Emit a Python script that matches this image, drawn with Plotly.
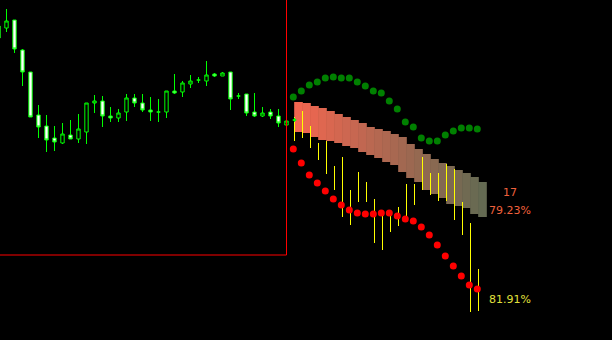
import plotly.graph_objects as go

# ---------------- data (arbitrary price units) ----------------
# historical candles, bar index 0..37
candle_idx = list(range(0, 38))
candle_open = [314, 312, 320, 290, 268, 225, 214, 202, 197, 205, 201, 208, 237, 239, 224, 222,
               228, 242, 237, 230, 228, 228, 249, 248, 256, 260, 259, 266, 264, 268, 244, 246,
               228, 224, 228, 224, 215, 220]
candle_high = [314, 331, 320, 291, 268, 235, 225, 214, 217, 220, 226, 237, 245, 244, 233, 231,
               246, 246, 246, 243, 241, 249, 266, 259, 265, 263, 279, 267, 268, 268, 247, 246,
               247, 233, 231, 231, 219, 222]
candle_low = [302, 308, 287, 254, 223, 202, 188, 189, 196, 201, 197, 196, 227, 213, 218, 218,
              219, 233, 228, 219, 218, 222, 246, 243, 252, 257, 254, 263, 264, 230, 241, 224,
              223, 223, 221, 213, 215, 218]
candle_close = [302, 319, 291, 268, 223, 213, 200, 198, 206, 201, 211, 237, 239, 224, 222, 227,
                242, 237, 230, 228, 228, 249, 247, 257, 259, 260, 265, 264, 267, 241, 244, 227,
                224, 227, 224, 217, 219, 220]

# forecast section, bar index 37..60
fc_idx = list(range(37, 61))
fc_range_high = [223, 229, 214, 197, 199, 174, 183, 150, 168, 158, 141, 129, 129, 133, 156, 156,
                 183, 167, 167, 176, 171, 138, 117, 71]
fc_range_low = [199, 202, 192, 180, 166, 150, 123, 115, 138, 138, 97, 90, 108, 114, 124, 135,
                150, 145, 139, 139, 120, 105, 28, 29]
band_upper = [238, 237, 234, 232, 229, 226, 223, 220, 217, 213, 211, 209, 206, 203, 196, 191,
              186, 181, 177, 174, 170, 167, 163, 158]
band_lower = [208, 207, 203, 200, 199, 197, 194, 192, 188, 185, 182, 178, 175, 168, 162, 158,
              150, 146, 142, 136, 134, 132, 126, 123]
upper_dots = [243, 249, 255, 258, 262, 263, 262, 262, 258, 254, 249, 247, 239, 231, 218, 213,
              202, 199, 199, 205, 209, 212, 212, 211]
lower_dots = [191, 177, 165, 157, 149, 141, 135, 130, 127, 126, 126, 127, 127, 124, 121, 119,
              113, 105, 95, 84, 74, 64, 55, 51]

border_index = 36      # last historical bar (red separator)
border_level = 85      # lower edge of the history frame

label_count = "17"
label_pct_top = "79.23%"
label_pct_bottom = "81.91%"
label_x = 63.9
label_y_count = 148
label_y_top = 130
label_y_bottom = 41

# ---------------- styles ----------------
BAND_START = (242, 102, 80)
BAND_END = (100, 106, 82)
DOT_DX = -0.15


def blend(t):
    r = [round(a + (b - a) * t) for a, b in zip(BAND_START, BAND_END)]
    return "rgb(%d,%d,%d)" % tuple(r)


n = len(fc_idx)
band_colors = [blend(k / (n - 1)) for k in range(n)]

fig = go.Figure()

# gradient band
fig.add_trace(go.Bar(
    x=[i + 0.5 for i in fc_idx],
    y=[u - l for u, l in zip(band_upper, band_lower)],
    base=band_lower,
    width=1.08,
    marker=dict(color=band_colors, line=dict(width=0)),
    hoverinfo="skip",
))

# yellow forecast ranges (thin bars)
fig.add_trace(go.Bar(
    x=fc_idx,
    y=[h - l for h, l in zip(fc_range_high, fc_range_low)],
    base=fc_range_low,
    width=0.125,
    marker=dict(color="#FFFF00", line=dict(width=0)),
    hoverinfo="skip",
))

# candles
fig.add_trace(go.Candlestick(
    x=candle_idx,
    open=candle_open, high=candle_high, low=candle_low, close=candle_close,
    increasing=dict(fillcolor="#000000", line=dict(color="#00FF00", width=1)),
    decreasing=dict(fillcolor="#FFFFFF", line=dict(color="#00FF00", width=1)),
    whiskerwidth=0,
    hoverinfo="skip",
))

# dots
fig.add_trace(go.Scatter(
    x=[i + DOT_DX for i in fc_idx], y=upper_dots, mode="markers",
    marker=dict(color="#008000", size=7, line=dict(width=0)),
    hoverinfo="skip",
))
fig.add_trace(go.Scatter(
    x=[i + DOT_DX for i in fc_idx], y=lower_dots, mode="markers",
    marker=dict(color="#FF0000", size=7, line=dict(width=0)),
    hoverinfo="skip",
))

# frame lines
fig.add_shape(type="line", xref="x", yref="y", x0=border_index, x1=border_index,
              y0=border_level, y1=340, line=dict(color="#FF0000", width=1))
fig.add_shape(type="line", xref="x", yref="y", x0=0.1875, x1=border_index,
              y0=border_level, y1=border_level, line=dict(color="#FF0000", width=1))

font = dict(family="DejaVu Sans", size=11)
fig.add_annotation(x=label_x, y=label_y_count, text=label_count, showarrow=False,
                   font=dict(**font, color="#F0603C"), xanchor="center", yanchor="middle")
fig.add_annotation(x=label_x, y=label_y_top, text=label_pct_top, showarrow=False,
                   font=dict(**font, color="#F0603C"), xanchor="center", yanchor="middle")
fig.add_annotation(x=label_x, y=label_y_bottom, text=label_pct_bottom, showarrow=False,
                   font=dict(**font, color="#E0E03C"), xanchor="center", yanchor="middle")

fig.update_layout(
    width=612, height=340,
    margin=dict(l=0, r=0, t=0, b=0),
    paper_bgcolor="#000000", plot_bgcolor="#000000",
    showlegend=False,
    barmode="overlay",
    boxgap=0.4,
    xaxis=dict(visible=False, range=[0.1875, 76.6875], rangeslider=dict(visible=False),
               fixedrange=True),
    yaxis=dict(visible=False, range=[0, 340], fixedrange=True),
)

fig.write_html("out.html", config={"displayModeBar": False})
